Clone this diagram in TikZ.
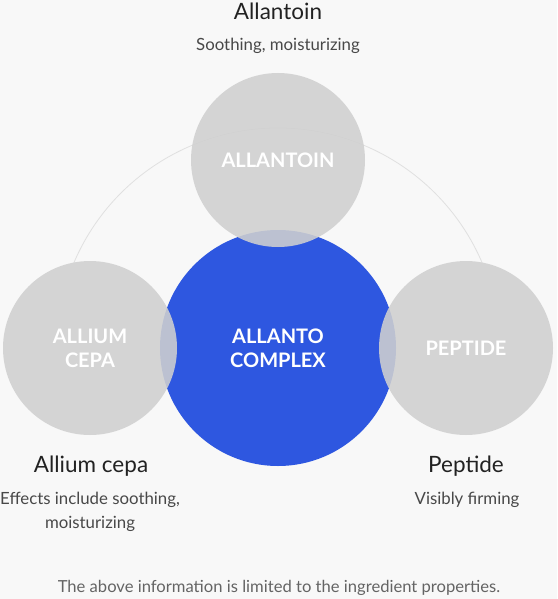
\documentclass[tikz,border=0pt]{standalone}
\usepackage{fontspec}
\setmainfont{Lato}
\begin{document}
\begin{tikzpicture}[x=1pt,y=-1pt]
\definecolor{bgc}{RGB}{248,248,248}
\definecolor{greyc}{RGB}{208,208,208}
\definecolor{bluec}{RGB}{46,87,224}
\definecolor{arcc}{RGB}{224,224,224}
\definecolor{titlec}{RGB}{34,34,34}
\definecolor{subc}{RGB}{72,72,72}
\definecolor{notec}{RGB}{100,100,100}
\tikzset{
  greyball/.style={circle, minimum size=174pt, inner sep=0pt, fill=greyc, fill opacity=0.88, text opacity=1, text=white, align=center, font=\fontsize{20}{24}\selectfont\bfseries},
  blueball/.style={circle, minimum size=236pt, inner sep=0pt, fill=bluec, text=white, align=center, font=\fontsize{20}{24}\selectfont\bfseries},
  titletext/.style={text=titlec, font=\fontsize{22.5}{26}\selectfont, inner sep=0pt},
  subtext/.style={text=subc, font=\fontsize{16.8}{24}\selectfont, inner sep=0pt, align=center},
  notetext/.style={text=notec, font=\fontsize{16.6}{18}\selectfont, inner sep=0pt},
  arcline/.style={draw=arcc, line width=0.8pt}
}
\fill[bgc] (0,0) rectangle (557,599);
\useasboundingbox (0,0) rectangle (557,599);
\coordinate (ac) at (278,350);
\draw[arcline] (ac) ++(203:222) arc[start angle=203, end angle=337, radius=222];
\node[blueball] (center) at (278,348) {ALLANTO\\COMPLEX};
\node[greyball] (top) at (278,160) {ALLANTOIN};
\node[greyball] (left) at (90,348) {ALLIUM\\CEPA};
\node[greyball] (right) at (466,348) {PEPTIDE};
\node[titletext] (t1) at (278,11) {Allantoin};
\node[subtext] (s1) at (278,46) {Soothing, moisturizing};
\node[titletext] (t2) at (91,466) {Allium cepa};
\node[subtext] (s2) at (90,512) {Effects include soothing,\\moisturizing};
\node[titletext] (t3) at (466,466) {Peptide};
\node[subtext] (s3) at (467,500) {Visibly firming};
\node[notetext] (note) at (279,588) {The above information is limited to the ingredient properties.};
\end{tikzpicture}
\end{document}
